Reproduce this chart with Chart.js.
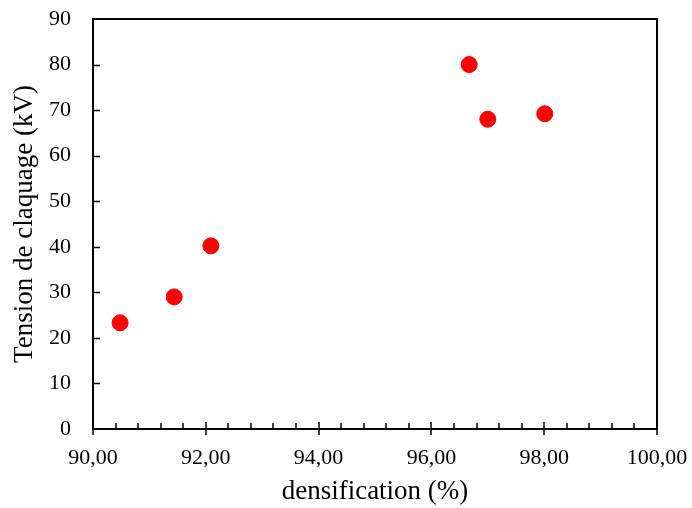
<!DOCTYPE html>
<html>
<head>
  <meta charset="UTF-8">
  <title>Tension de claquage vs densification</title>
  <script src="https://cdn.jsdelivr.net/npm/chart.js"></script>
  <style>
    html, body {
      margin: 0;
      padding: 0;
      background: #fff;
    }

    #wrap {
      width: 692px;
      height: 508px;
    }
  </style>
</head>
<body>
  <div id="wrap">
    <canvas id="chart" width="692" height="508"></canvas>
  </div>

  <script>
    // values
    const densification = [90.48, 91.44, 92.09, 96.67, 97.00, 98.01];
    const tension = [23.3, 29.0, 40.2, 80.0, 68.0, 69.2];

    const xMin = 90, xMax = 100, xStep = 2, xMinorStep = 0.4;
    const yMin = 0, yMax = 90, yStep = 10;

    const points = densification.map((d, i) => ({ x: d, y: tension[i] }));

    const serif = "'Liberation Serif', 'Times New Roman', serif";
    const ink = "#000";

    // pin the scale sizes and drop the label overflow padding so the plot box lands where it should
    function pinSize(s, w, h) {
      if (w) s.width = w;
      if (h) s.height = h;
      s.paddingTop = s.paddingBottom = s.paddingLeft = s.paddingRight = 0;
    }

    // inward tick marks + closing frame (top and right), like the Excel look
    const frameTicks = {
      id: "frameTicks",
      afterDraw(chart) {
        const { ctx, chartArea: a, scales: { x, y } } = chart;
        ctx.save();
        ctx.strokeStyle = ink;
        ctx.lineWidth = 2;
        ctx.beginPath();
        ctx.moveTo(a.left, a.top);
        ctx.lineTo(a.right, a.top);
        ctx.lineTo(a.right, a.bottom);
        ctx.stroke();

        ctx.lineWidth = 1.5;
        ctx.beginPath();
        for (let v = yMin + yStep; v < yMax; v += yStep) {
          const py = Math.round(y.getPixelForValue(v)) + 0.5;
          ctx.moveTo(a.left, py);
          ctx.lineTo(a.left + 7, py);
        }
        for (let v = xMin; v <= xMax + 1e-9; v += xMinorStep) {
          const px = Math.round(x.getPixelForValue(v));
          const major = Math.abs(v / xStep - Math.round(v / xStep)) < 1e-6;
          ctx.moveTo(px, a.bottom - (major ? 7 : 6));
          ctx.lineTo(px, a.bottom + (major ? 6 : 0));
        }
        ctx.stroke();
        ctx.restore();
      }
    };

    new Chart(document.getElementById("chart"), {
      type: "scatter",
      data: {
        datasets: [{
          data: points,
          backgroundColor: "#ff0000",
          borderColor: "#ff0000",
          pointRadius: 8,
          pointHoverRadius: 8
        }]
      },
      options: {
        responsive: false,
        animation: false,
        layout: { padding: { top: 19, right: 35, bottom: 0, left: 0 } },
        plugins: {
          legend: { display: false },
          tooltip: { enabled: false }
        },
        scales: {
          x: {
            type: "linear",
            min: xMin,
            max: xMax,
            afterFit: s => pinSize(s, 0, 79),
            grid: { display: false, drawTicks: false },
            border: { display: true, color: ink, width: 2 },
            ticks: {
              stepSize: xStep,
              padding: 16,
              color: ink,
              font: { family: serif, size: 22 },
              callback: v => v.toFixed(2).replace(".", ",")
            },
            title: {
              display: true,
              text: "densification (%)",
              color: ink,
              font: { family: serif, size: 27 },
              padding: { top: 0, bottom: 0 }
            }
          },
          y: {
            type: "linear",
            min: yMin,
            max: yMax,
            afterFit: s => pinSize(s, 93, 0),
            grid: { display: false, drawTicks: false },
            border: { display: true, color: ink, width: 2 },
            ticks: {
              stepSize: yStep,
              padding: 22,
              color: ink,
              font: { family: serif, size: 22 }
            },
            title: {
              display: true,
              text: "Tension de claquage (kV)",
              color: ink,
              font: { family: serif, size: 27 },
              padding: { top: 9, bottom: 0 }
            }
          }
        }
      },
      plugins: [frameTicks]
    });
  </script>
</body>
</html>
